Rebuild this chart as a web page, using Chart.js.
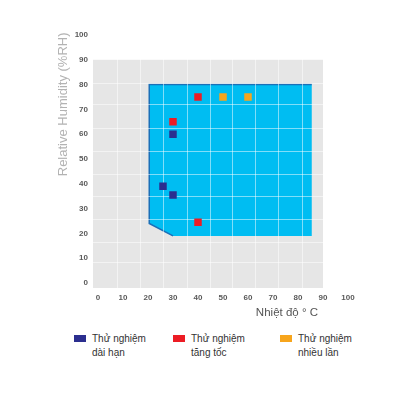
<!DOCTYPE html>
<html>
<head>
<meta charset="utf-8">
<script src="https://cdn.jsdelivr.net/npm/chart.js@4.4.1/dist/chart.umd.min.js"></script>
<style>
  body { margin: 0; background: #fff; font-family: "Liberation Sans", Arial, sans-serif; }
  #wrap { position: relative; width: 400px; height: 400px; }
  #chart-box { position: absolute; left: 0; top: 0; width: 400px; height: 330px; }
  #legend { position: absolute; left: 0; top: 332px; width: 400px; }
  .item { position: absolute; top: 0; font-size: 10px; line-height: 14px; color: #333; }
  .item:nth-child(1) { left: 74px; }
  .item:nth-child(2) { left: 173px; }
  .item:nth-child(3) { left: 280px; }
  .swatch { position: absolute; left: 0; top: 3px; width: 12px; height: 7px; }
  .item span { display: block; margin-left: 18px; width: 62px; }
</style>
</head>
<body>
<div id="wrap">
  <div id="chart-box"><canvas id="chart"></canvas></div>
  <div id="legend"></div>
</div>
<script>
// Test series (temperature °C, relative humidity %RH)
const seriesNames = ["Thử nghiệm dài hạn", "Thử nghiệm tăng tốc", "Thử nghiệm nhiều lần"];
const longTermT = [30, 26, 30];
const longTermRH = [60, 39, 35.5];
const acceleratedT = [40, 30, 40];
const acceleratedRH = [75, 65, 24.5];
const repeatedT = [50, 60];
const repeatedRH = [75, 75];

// Chamber working range (blue area), and grey plot field
const zoneT = [85.5, 20.5, 20.5, 30, 85.5];
const zoneRH = [80, 80, 24, 19, 19];
const fieldT = [-2, 90];
const fieldRH = [-2, 90];

// Tick labels, and the grid of the plot field (it does not follow the ticks)
const tempTicks = [0, 10, 20, 30, 40, 50, 60, 70, 80, 90, 100];
const rhTicks = [0, 10, 20, 30, 40, 50, 60, 70, 80, 90, 100];
const gridT = [7.6, 16.8, 26, 35.6, 44.8, 53.6, 62.8, 72, 81.6];
const gridRH = [8.1, 16.5, 25.8, 34.7, 43.9, 53.2, 62.5, 71.8, 80.6];

const colors = ["#2b2e8f", "#ec1c24", "#f7a51c"];

const toPoints = (xs, ys) => xs.map((v, i) => ({ x: v, y: ys[i] }));

// Grey field and blue zone go under the grid lines
const zonePlugin = {
  id: "zones",
  beforeDraw(chart) {
    const { ctx, scales: { x, y } } = chart;
    ctx.save();
    const fx = x.getPixelForValue(fieldT[0]);
    const fy = y.getPixelForValue(fieldRH[1]);
    ctx.fillStyle = "#e6e6e6";
    ctx.fillRect(fx, fy, x.getPixelForValue(fieldT[1]) - fx, y.getPixelForValue(fieldRH[0]) - fy);

    ctx.beginPath();
    zoneT.forEach((t, i) => {
      const px = x.getPixelForValue(t), py = y.getPixelForValue(zoneRH[i]);
      i ? ctx.lineTo(px, py) : ctx.moveTo(px, py);
    });
    ctx.closePath();
    ctx.fillStyle = "#00bdf2";
    ctx.fill();

    // darker edge on top, left and the cut corner
    ctx.beginPath();
    for (let i = 0; i < 4; i++) {
      const px = x.getPixelForValue(zoneT[i]), py = y.getPixelForValue(zoneRH[i]);
      i ? ctx.lineTo(px, py) : ctx.moveTo(px, py);
    }
    ctx.strokeStyle = "#1b70b8";
    ctx.lineWidth = 1.5;
    ctx.stroke();
    ctx.restore();
  },
  afterDraw(chart) {
    // x axis title sits right-aligned under the 80-90 labels
    const { ctx, scales: { x } } = chart;
    ctx.save();
    ctx.font = "11.5px 'Liberation Sans', Arial, sans-serif";
    ctx.fillStyle = "#555";
    ctx.textAlign = "right";
    ctx.textBaseline = "middle";
    ctx.fillText("Nhiệt độ ° C", x.getPixelForValue(88), x.bottom - 7);
    ctx.restore();
  }
};

const tickFont = { family: "'Liberation Sans', Arial, sans-serif", size: 8, weight: "bold" };

const myChart = new Chart(document.getElementById("chart"), {
  type: "scatter",
  plugins: [zonePlugin],
  data: {
    datasets: [
      { label: seriesNames[0], data: toPoints(longTermT, longTermRH), backgroundColor: colors[0] },
      { label: seriesNames[1], data: toPoints(acceleratedT, acceleratedRH), backgroundColor: colors[1] },
      { label: seriesNames[2], data: toPoints(repeatedT, repeatedRH), backgroundColor: colors[2] },
    ],
  },
  options: {
    responsive: true,
    maintainAspectRatio: false,
    animation: false,
    layout: { padding: { left: 52, right: 49.5, top: 32.5, bottom: 10 } },
    elements: { point: { pointStyle: "rect", radius: 5.3, borderWidth: 0, hoverRadius: 5.3 } },
    plugins: { legend: { display: false }, tooltip: { enabled: false } },
    scales: {
      x: {
        min: -2, max: 101,
        afterBuildTicks: (s) => { s.ticks = tempTicks.map((v) => ({ value: v })); },
        afterFit: (s) => { s.height = 32; },
        grid: { display: false, drawTicks: false },
        border: { display: false },
        ticks: { color: "#5a5a5a", font: tickFont, padding: 5, maxRotation: 0 },
      },
      y: {
        min: -2, max: 101,
        afterBuildTicks: (s) => { s.ticks = rhTicks.map((v) => ({ value: v })); },
        afterFit: (s) => { s.width = 41; },
        grid: { display: false, drawTicks: false },
        border: { display: false },
        ticks: { color: "#5a5a5a", font: tickFont, padding: 5 },
        title: {
          display: true,
          text: "Relative Humidity (%RH)",
          align: "end",
          color: "#b3b3b3",
          font: { family: "'Liberation Sans', Arial, sans-serif", size: 13 },
        },
      },
      gx: {
        type: "linear", position: "bottom", min: -2, max: 101,
        afterBuildTicks: (s) => { s.ticks = gridT.map((v) => ({ value: v })); },
        afterFit: (s) => { s.height = 0; },
        grid: { color: "rgba(255,255,255,0.5)", drawTicks: false },
        border: { display: false },
        ticks: { display: false },
      },
      gy: {
        type: "linear", position: "left", min: -2, max: 101,
        afterBuildTicks: (s) => { s.ticks = gridRH.map((v) => ({ value: v })); },
        afterFit: (s) => { s.width = 0; },
        grid: { color: "rgba(255,255,255,0.5)", drawTicks: false },
        border: { display: false },
        ticks: { display: false },
      },
    },
  },
});

// HTML legend built from the datasets (labels wrap onto two lines)
const legendBox = document.getElementById("legend");
myChart.data.datasets.forEach((ds) => {
  const item = document.createElement("div");
  item.className = "item";
  item.innerHTML = `<i class="swatch" style="background:${ds.backgroundColor}"></i><span>${ds.label}</span>`;
  legendBox.appendChild(item);
});
</script>
</body>
</html>
